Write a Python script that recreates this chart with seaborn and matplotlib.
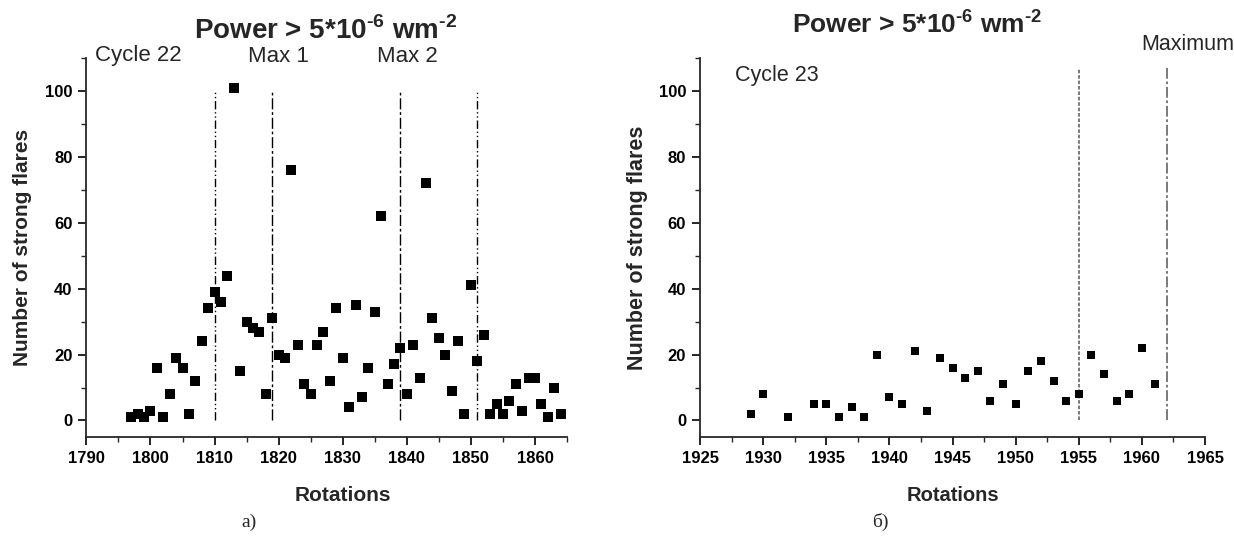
import matplotlib
matplotlib.use("Agg")
import matplotlib.pyplot as plt
import seaborn as sns
import pandas as pd
from matplotlib.ticker import MultipleLocator

# ---- data: cycle 22 ----
rot22 = list(range(1797, 1865))
flares22 = [1, 2, 1, 3, 16, 1, 8, 19, 16, 2, 12, 24, 34, 39, 36, 44, 101, 15, 30, 28,
            27, 8, 31, 20, 19, 76, 23, 11, 8, 23, 27, 12, 34, 19, 4, 35, 7, 16, 33, 62,
            11, 17, 22, 8, 23, 13, 72, 31, 25, 20, 9, 24, 2, 41, 18, 26, 2, 5, 2, 6,
            11, 3, 13, 13, 5, 1, 10, 2]
lines22 = [1810, 1819, 1839, 1851]

# ---- data: cycle 23 ----
rot23 = [1929, 1930, 1932, 1934, 1935, 1936, 1937, 1938, 1939, 1940, 1941, 1942, 1943,
         1944, 1945, 1946, 1947, 1948, 1949, 1950, 1951, 1952, 1953, 1954, 1955, 1956,
         1957, 1958, 1959, 1960, 1961]
flares23 = [2, 8, 1, 5, 5, 1, 4, 1, 20, 7, 5, 21, 3, 19, 16, 13, 15, 6, 11, 5, 15, 18,
            12, 6, 8, 20, 14, 6, 8, 22, 11]
lines23 = [1955, 1962]

title_text = r"Power > 5*10$^{\text{-6}}$ wm$^{\text{-2}}$"
ylabel_text = "Number of strong flares"
xlabel_text = "Rotations"

sns.set_style("ticks")
plt.rcParams['font.family'] = ['Liberation Sans', 'DejaVu Sans']
plt.rcParams['mathtext.fontset'] = 'custom'
plt.rcParams['mathtext.rm'] = 'Liberation Sans:bold'
plt.rcParams['mathtext.bf'] = 'Liberation Sans:bold'

fig = plt.figure(figsize=(12.34, 5.5), dpi=100)
axL = fig.add_axes([0.070, 0.2055, 0.3895, 0.689])
axR = fig.add_axes([0.5673, 0.2055, 0.4092, 0.689])

df22 = pd.DataFrame({"Rotations": rot22, "Flares": flares22})
df23 = pd.DataFrame({"Rotations": rot23, "Flares": flares23})

sns.scatterplot(data=df22, x="Rotations", y="Flares", ax=axL, marker="s", s=48,
                color="black", edgecolor="black", linewidth=0, zorder=3)
sns.scatterplot(data=df23, x="Rotations", y="Flares", ax=axR, marker="s", s=34,
                color="black", edgecolor="black", linewidth=0, zorder=3)

styles22 = [(0, (6, 2, 1, 2, 1, 2)), (0, (8, 2, 2, 2)), (0, (8, 2, 2, 2)), (0, (6, 2, 1, 2, 1, 2))]
for xv, ls in zip(lines22, styles22):
    axL.plot([xv, xv], [0, 100], color="black", lw=1.0, linestyle=ls, zorder=2)
styles23 = [(0, (2, 1)), (0, (6, 1.5, 1.5, 1.5))]
for xv, ls in zip(lines23, styles23):
    axR.plot([xv, xv], [0, 107], color="#707070", lw=1.3, linestyle=ls, zorder=2)

for ax in (axL, axR):
    sns.despine(ax=ax)
    ax.set_ylim(-5, 110)
    ax.yaxis.set_major_locator(MultipleLocator(20))
    ax.yaxis.set_minor_locator(MultipleLocator(10))
    ax.tick_params(which="major", direction="out", length=6, width=1.2,
                   labelsize=12, colors="black", pad=4)
    ax.tick_params(which="minor", direction="out", length=3.5, width=1.0)
    ax.spines["left"].set_linewidth(1.3)
    ax.spines["bottom"].set_linewidth(1.3)

axL.set_xlim(1790, 1865)
axL.set_xticks(range(1790, 1861, 10))
axL.xaxis.set_minor_locator(MultipleLocator(5))
axR.set_xlim(1925, 1965)
axR.xaxis.set_major_locator(MultipleLocator(5))
axR.xaxis.set_minor_locator(MultipleLocator(2.5))

axL.set_xlabel(xlabel_text, fontsize=15, fontweight="bold")
axL.set_ylabel(ylabel_text, fontsize=15, fontweight="bold")
axR.set_xlabel(xlabel_text, fontsize=14.5, fontweight="bold")
axR.set_ylabel(ylabel_text, fontsize=15.5, fontweight="bold")
axL.xaxis.set_label_coords((1830 - 1790) / 75.0, -0.13)
axR.xaxis.set_label_coords(0.5, -0.13)
axL.yaxis.set_label_coords(-0.113, 0.5)
axR.yaxis.set_label_coords(-0.103, 0.5)

for ax in (axL, axR):
    for lbl in ax.get_xticklabels() + ax.get_yticklabels():
        lbl.set_fontweight("bold")
        lbl.set_fontsize(12)

def fx(px):
    return px / 1234.0

def fy(py):
    return 1 - py / 550.0

fig.text(fx(326), fy(31), title_text, ha="center", va="center", fontsize=20, fontweight="bold")
fig.text(fx(917), fy(24), title_text, ha="center", va="center", fontsize=19, fontweight="bold")
fig.text(fx(95), fy(55), "Cycle 22", ha="left", va="center", fontsize=16)
fig.text(fx(278), fy(57), "Max 1", ha="center", va="center", fontsize=16)
fig.text(fx(407), fy(57), "Max 2", ha="center", va="center", fontsize=16)
fig.text(fx(735), fy(76), "Cycle 23", ha="left", va="center", fontsize=15.5)
fig.text(fx(1188), fy(44), "Maximum", ha="center", va="center", fontsize=15.5)
fig.text(fx(249), fy(522), "а)", ha="center", va="center", fontsize=14,
         family=["Liberation Serif", "DejaVu Serif"])
fig.text(fx(880), fy(522), "б)", ha="center", va="center", fontsize=14,
         family=["Liberation Serif", "DejaVu Serif"])

fig.savefig("out.png", dpi=100)
